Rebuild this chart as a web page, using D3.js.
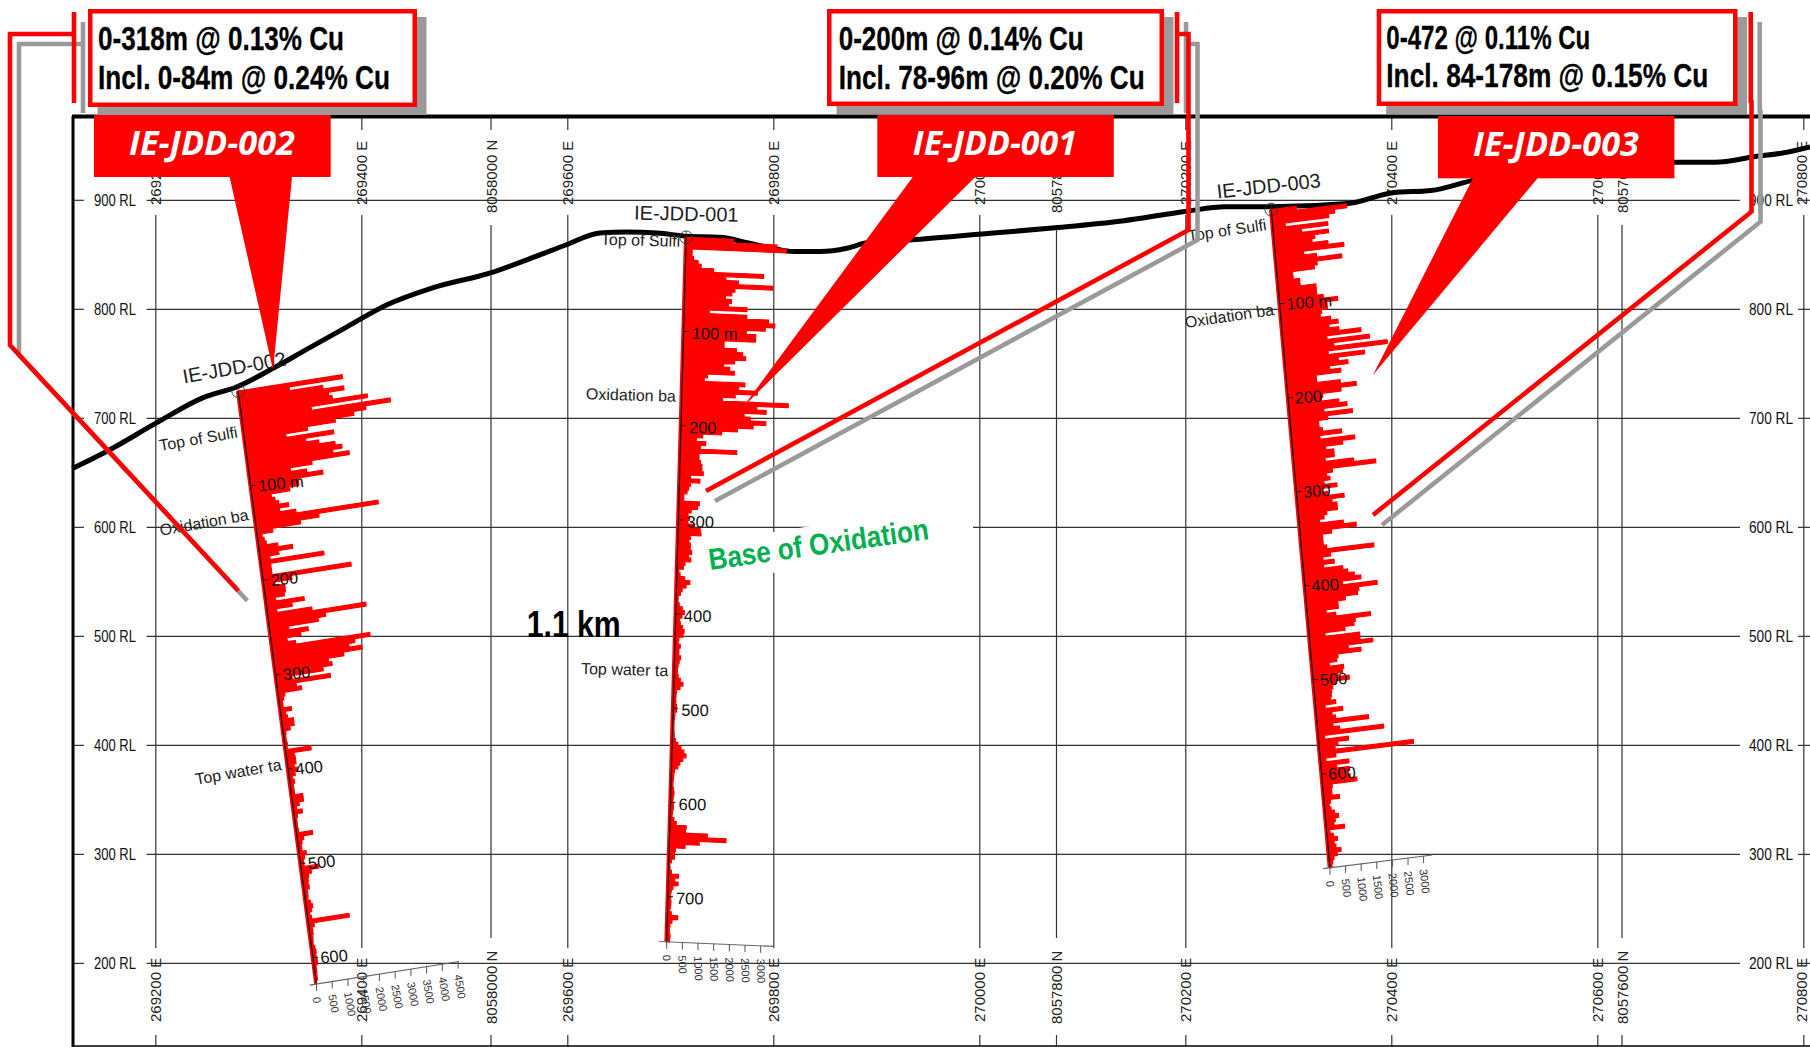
<!DOCTYPE html>
<html><head><meta charset="utf-8">
<script src="https://cdn.jsdelivr.net/npm/d3@7/dist/d3.min.js"></script>
<style>html,body{margin:0;padding:0;background:#fff;overflow:hidden}svg{display:block}text{font-family:"Liberation Sans",Arial,sans-serif}</style>
</head><body><svg id="c" width="1810" height="1047"></svg>
<script>
// ---------- data ----------
const eastTicks=[269200,269400,269600,269800,270000,270200,270400,270600,270800];
const northTicks=[8058000,8057800,8057600];
const rlTicks=[900,800,700,600,500,400,300,200];
const terrainE=[269119,269155,269201,269246,269279,269316,269346,269383,269424,269468,269525,269569,269598,269631,269657,269687,269716,269748,269774,269799,269819,269845,269871,269890,269938,270013,270076,270138,270201,270238,270282,270357,270401,270438,270482,270583,270676,270714,270752,270783,270806];
const terrainRL=[654,671,696,719,729,747,763,782.5,804,819.5,833.5,848.5,859,870,871,870,867,866,861,856,853,853,856,861,864,870,875,881,890,894,894,897,907,909,919,928,935,935,940,944,949];
const binMetres=4;
const cuJDD002=[3300,1600,2650,3300,2800,2900,4000,2200,4700,3900,3500,2900,2000,1300,2800,1900,2300,2800,3000,2700,3200,2000,1300,1800,2300,1500,1500,1200,600,700,800,1100,800,1300,3900,2000,1400,500,150,200,250,600,1050,600,300,2000,300,300,300,2800,900,350,650,650,600,300,1200,800,300,1400,3100,1800,1550,600,1200,950,500,750,3100,2600,2400,2800,2200,1700,1800,1500,500,1700,600,750,200,150,100,100,350,150,200,370,370,230,80,60,60,80,60,800,250,270,270,200,300,200,100,150,100,100,100,350,350,200,100,270,100,60,60,60,70,500,200,130,100,100,220,150,100,100,550,300,200,170,150,170,100,100,80,150,200,150,80,120,1300,170,100,100,80,70,60,100,120,100,120,120,60,60,50,50];
const cuJDD001=[1500,2900,3200,200,200,250,400,500,900,2500,1300,1700,2800,1600,1500,1300,1500,1400,2000,800,2000,2700,2900,2600,2000,2300,2300,1300,1300,1700,1900,2000,1650,1300,1500,1650,800,700,2000,1800,2400,1700,1300,3400,2400,2700,2000,2200,2700,2300,1800,1300,700,500,800,640,1800,600,600,650,700,700,750,350,650,350,300,250,150,150,650,600,400,300,350,300,500,700,730,400,350,400,400,450,350,430,250,200,60,100,250,420,300,180,130,60,60,100,200,270,200,120,150,220,280,250,120,100,170,130,130,190,150,120,100,100,130,200,290,200,90,80,70,80,100,110,60,50,40,40,40,50,60,100,180,280,380,450,350,260,200,100,80,70,60,60,80,100,80,70,90,90,70,60,120,200,520,500,1200,1800,950,500,200,170,170,80,30,40,90,320,200,310,150,100,70,90,100,90,70,120,330,150,90,70,80,100,90];
const cuJDD003=[800,2400,2000,1800,400,1750,900,1750,1300,1200,1700,2200,900,1300,2100,1300,1200,500,500,700,700,1200,1200,1200,1400,1850,1500,1500,1300,1250,1570,1800,1500,1800,2500,1400,2750,1600,3300,1400,2550,1700,2000,1400,1750,950,950,1700,2200,1700,1100,1050,1600,1850,1100,2000,1200,900,900,1000,1600,900,2000,1600,1050,1300,1300,1000,1900,2600,1200,1000,1100,900,1300,800,1000,1500,1100,1250,1250,900,800,650,1400,1800,1000,700,700,700,800,2300,900,650,1000,650,1250,1400,1600,1800,1200,2300,1700,1650,1250,1000,1000,600,900,2000,1500,1450,1150,500,1600,1600,2000,1200,1600,850,800,550,1000,950,800,1150,700,600,550,530,500,650,300,850,500,600,1650,500,700,2100,200,950,600,500,3000,500,170,900,500,900,800,900,1100,300,270,270,500,200,150,200,300,420,300,250,580,100,200,320,200,250,400,270,150,100,70];
const depthTicks002=[100,200,300,400,500,600];
const depthTicks001=[100,200,300,400,500,600,700];
const depthTicks003=[100,200,300,400,500,600];
const valueTicks002=[0,500,1000,1500,2000,2500,3000,3500,4000,4500];
const valueTicks001=[0,500,1000,1500,2000,2500,3000];
const valueTicks003=[0,500,1000,1500,2000,2500,3000];

// ---------- scales ----------
const east=d3.scaleLinear([269200,270800],[155.8,1803.8]);
const north=d3.scaleLinear([8058000,8057600],[491,1622]);
const rl=d3.scaleLinear([900,200],[200.3,963.4]);

const holes=[
 {name:"IE-JDD-002",cu:cuJDD002,collarE:269280,collarRL:725,endE:269356,endRL:181.1,maxDepth:628,depthTicks:depthTicks002,valueTicks:valueTicks002,
  axisMax:4500,axisDx:141.6,axisDy:-22.4,axisLo:-220,axisHi:4530,lblRot:-6,lblDx:8,lblDy:6,geoRot:-10,tickRot:80,
  nameX:184,nameY:383.5,nameRot:-10,geo:[["Top of Sulfi",49],["Oxidation ba",136.6],["Top water ta",401]]},
 {name:"IE-JDD-001",cu:cuJDD001,collarE:269715,collarRL:866,endE:269696,endRL:219.8,maxDepth:748,depthTicks:depthTicks001,valueTicks:valueTicks001,
  axisMax:3000,axisDx:94,axisDy:4,axisLo:-240,axisHi:3400,lblRot:0.8,lblDx:8,lblDy:7.5,geoRot:1.5,tickRot:88,
  nameX:634,nameY:219.5,nameRot:1.3,geo:[["Top of Sulfi",10],["Oxidation ba",174.5],["Top water ta",466]]},
 {name:"IE-JDD-003",cu:cuJDD003,collarE:270283,collarRL:891.5,endE:270340,endRL:287.7,maxDepth:700,depthTicks:depthTicks003,valueTicks:valueTicks003,
  axisMax:3000,axisDx:93.6,axisDy:-11.7,axisLo:-220,axisHi:3280,lblRot:-4,lblDx:7,lblDy:6,geoRot:-8.4,tickRot:84,
  nameX:1217.5,nameY:198.5,nameRot:-6.3,geo:[["Top of Sulfi",21.7],["Oxidation ba",112]]}
];
const callouts=[
 {box:[88,9,417,107],line1:"0-318m @ 0.13% Cu",x:98,w1:246,y1:50,line2:"Incl. 0-84m @ 0.24% Cu",w2:292,y2:89,
  tag:[94,115,330.7,177],tagText:"IE-JDD-002",tagX:129,tagW:166,tagY:155,ptr:[[229.6,177],[292,177],[273,370]],
  leader:[[74,12],[74,103]],leader2:[[74,34],[10,34],[10,345],[238.3,590.7]]},
 {box:[827,9,1164,106],line1:"0-200m @ 0.14% Cu",x:838.7,w1:245,y1:50,line2:"Incl. 78-96m @ 0.20% Cu",w2:306,y2:89,
  tag:[877.3,115,1113.8,177],tagText:"IE-JDD-001",tagX:912.8,tagW:164,tagY:155,ptr:[[912.8,177],[975.3,177],[743,407]],
  leader:[[1177,12],[1177,103]],leader2:[[1177,34],[1188.5,34],[1188.5,230],[706,491]]},
 {box:[1376.7,9,1737.5,106],line1:"0-472 @ 0.11% Cu",x:1386.3,w1:204,y1:49,line2:"Incl. 84-178m @ 0.15% Cu",w2:322,y2:87,
  tag:[1437.9,116,1674.4,178.3],tagText:"IE-JDD-003",tagX:1473,tagW:166,tagY:156,ptr:[[1473,178],[1537.8,178],[1373,375]],
  leader:[[1750.7,12],[1750.7,103]],leader2:[[1751.5,100],[1751.5,211.7],[1373,515]]}
];

const svg=d3.select("#c");
const RED="#ff0000",GREY="#9a9a9a",GRID="#333";
svg.append("rect").attr("width",1810).attr("height",1047).attr("fill","#fff");
const line=d3.line();

// ---------- grid ----------
const grid=svg.append("g").attr("stroke",GRID).attr("stroke-width",1.2);
const seg=(x1,y1,x2,y2)=>grid.append("line").attr("x1",x1).attr("y1",y1).attr("x2",x2).attr("y2",y2);
rlTicks.forEach(v=>{const y=rl(v);seg(73,y,84,y);seg(146.6,y,1740,y);seg(1798,y,1810,y);});
eastTicks.forEach(v=>{const x=east(v);seg(x,118,x,130);seg(x,215,x,948);seg(x,1035,x,1046);});
northTicks.forEach(v=>{const x=north(v);seg(x,118,x,130);seg(x,225,x,938);seg(x,1035,x,1046);});

// white panel behind the green label
svg.append("polygon").attr("points","802,527.6 973,499.3 973,541 700,584.7 700,544").attr("fill","#fff");

const tx=(x,y,r,s)=>svg.append("text").attr("transform",`translate(${x},${y}) rotate(${r})`).text(s);
rlTicks.forEach(v=>{const y=rl(v)+6;
  [[94,42],[1749,44]].forEach(([x,w])=>tx(x,y,0,v+" RL").attr("font-size",16).attr("fill","#111").attr("textLength",w).attr("lengthAdjust","spacingAndGlyphs"));});
const vert=(x,y,s)=>tx(Math.min(x,1801.5),y,-90,s).attr("font-size",15).attr("fill","#222").attr("dominant-baseline","central");
eastTicks.forEach(v=>{const x=east(v);vert(x,205,v+" E");vert(x,1022,v+" E");});
northTicks.forEach(v=>{const x=north(v);vert(x,213,v+" N");vert(x,1024,v+" N");});

// ---------- terrain ----------
svg.append("path").attr("d",d3.line().curve(d3.curveMonotoneX)(terrainE.map((e,i)=>[east(e),rl(terrainRL[i])])))
  .attr("fill","none").attr("stroke","#000").attr("stroke-width",5);

// ---------- drill holes ----------
holes.forEach(h=>{
  const tX=d3.scaleLinear([0,h.maxDepth],[east(h.collarE),east(h.endE)]);
  const tY=d3.scaleLinear([0,h.maxDepth],[rl(h.collarRL),rl(h.endRL)]);
  const vX=d3.scaleLinear([0,h.axisMax],[0,h.axisDx]);
  const vY=d3.scaleLinear([0,h.axisMax],[0,h.axisDy]);
  const g=svg.append("g");
  // all bars of a hole in one path, so neighbouring bars join without seams
  const barPath=h.cu.map((v,i)=>{const d0=i*binMetres,d1=Math.min(d0+binMetres,h.maxDepth);
      return line([[tX(d0),tY(d0)],[tX(d1),tY(d1)],[tX(d1)+vX(v),tY(d1)+vY(v)],[tX(d0)+vX(v),tY(d0)+vY(v)]])+"Z";}).join("");
  g.append("path").attr("d",barPath).attr("fill",RED).attr("stroke",RED).attr("stroke-width",1.2);
  // trace
  g.append("line").attr("x1",tX(0)-1).attr("y1",tY(0)).attr("x2",tX(h.maxDepth)-1).attr("y2",tY(h.maxDepth)).attr("stroke",RED).attr("stroke-width",2.6);
  g.append("line").attr("x1",tX(0)).attr("y1",tY(0)).attr("x2",tX(h.maxDepth)).attr("y2",tY(h.maxDepth)).attr("stroke","#111").attr("stroke-width",1.2);
  // collar
  g.append("circle").attr("cx",tX(0)).attr("cy",tY(0)).attr("r",6.4).attr("fill","none").attr("stroke","#333").attr("stroke-width",0.9);
  g.append("line").attr("x1",tX(0)).attr("y1",tY(0)-6.4).attr("x2",tX(0)).attr("y2",tY(0)+6.4).attr("stroke","#333").attr("stroke-width",0.7);
  // depth ticks and labels
  h.depthTicks.forEach(d=>{
    g.append("line").attr("x1",tX(d)).attr("y1",tY(d)).attr("x2",tX(d)+5).attr("y2",tY(d)).attr("stroke","#111").attr("stroke-width",1);
    tx(tX(d)+h.lblDx,tY(d)+h.lblDy,h.lblRot,d===100?"100 m":d).attr("font-size",16.5).attr("fill","#111");
  });
  // geology labels
  h.geo.forEach(([s,d])=>tx(tX(d)-6,tY(d),h.geoRot,s).attr("font-size",16).attr("fill","#222").attr("text-anchor","end"));
  // hole name
  tx(h.nameX,h.nameY,h.nameRot,h.name).attr("font-size",20).attr("fill","#222");
  // value axis
  const ox=tX(h.maxDepth),oy=tY(h.maxDepth);
  g.append("line").attr("x1",ox+vX(h.axisLo)).attr("y1",oy+vY(h.axisLo)).attr("x2",ox+vX(h.axisHi)).attr("y2",oy+vY(h.axisHi)).attr("stroke","#666").attr("stroke-width",1.1);
  h.valueTicks.forEach(v=>{
    const x=ox+vX(v),y=oy+vY(v);
    g.append("line").attr("x1",x).attr("y1",y).attr("x2",x).attr("y2",y+7).attr("stroke","#555").attr("stroke-width",1);
    tx(x,y+13,h.tickRot,v).attr("font-size",11).attr("fill","#333").attr("dominant-baseline","central");
  });
});

// ---------- centre labels ----------
tx(526.7,636.7,0,"1.1 km").attr("font-size",37).attr("font-weight",700).attr("fill","#000").attr("textLength",94).attr("lengthAdjust","spacingAndGlyphs");
tx(710,570,-8,"Base of Oxidation").attr("font-size",30).attr("font-weight",700).attr("fill","#00b050").attr("textLength",222).attr("lengthAdjust","spacingAndGlyphs");

// ---------- frame ----------
const fr=svg.append("g").attr("stroke","#000");
fr.append("line").attr("x1",72).attr("y1",116.5).attr("x2",1810).attr("y2",116.5).attr("stroke-width",4);
fr.append("line").attr("x1",73).attr("y1",116).attr("x2",73).attr("y2",1047).attr("stroke-width",3);
fr.append("line").attr("x1",72).attr("y1",1046).attr("x2",1810).attr("y2",1046).attr("stroke-width",1.6);

// ---------- callouts ----------
callouts.forEach(c=>{
  const [x0,y0,x1,y1]=c.box;
  const off=p=>p.map(([x,y])=>[x+9,y+10]);
  svg.append("rect").attr("x",x0+9.5).attr("y",y0+8).attr("width",x1-x0).attr("height",y1-y0).attr("fill",GREY);
  [c.leader,c.leader2].forEach(p=>svg.append("path").attr("d",line(off(p))).attr("fill","none").attr("stroke",GREY).attr("stroke-width",4.6));
  [c.leader,c.leader2].forEach(p=>svg.append("path").attr("d",line(p)).attr("fill","none").attr("stroke",RED).attr("stroke-width",4.6));
  svg.append("rect").attr("x",x0+2.25).attr("y",y0+2.25).attr("width",x1-x0-4.5).attr("height",y1-y0-4.5).attr("fill","#fff").attr("stroke",RED).attr("stroke-width",4.5);
  [[c.line1,c.y1,c.w1],[c.line2,c.y2,c.w2]].forEach(([s,y,w])=>
    tx(c.x,y,0,s).attr("font-size",33).attr("font-weight",700).attr("fill","#000").attr("stroke","#000").attr("stroke-width",0.3).attr("textLength",w).attr("lengthAdjust","spacingAndGlyphs"));
  svg.append("polygon").attr("points",c.ptr.join(" ")).attr("fill",RED);
  const [a,b,e,f]=c.tag;
  svg.append("rect").attr("x",a).attr("y",b).attr("width",e-a).attr("height",f-b).attr("fill",RED);
  tx(c.tagX,c.tagY,0,c.tagText).style("font-family",'"Open Sans"').attr("font-size",34).attr("font-weight",700).attr("font-style","italic").attr("fill","#fff").attr("textLength",c.tagW).attr("lengthAdjust","spacingAndGlyphs");
});
</script></body></html>
